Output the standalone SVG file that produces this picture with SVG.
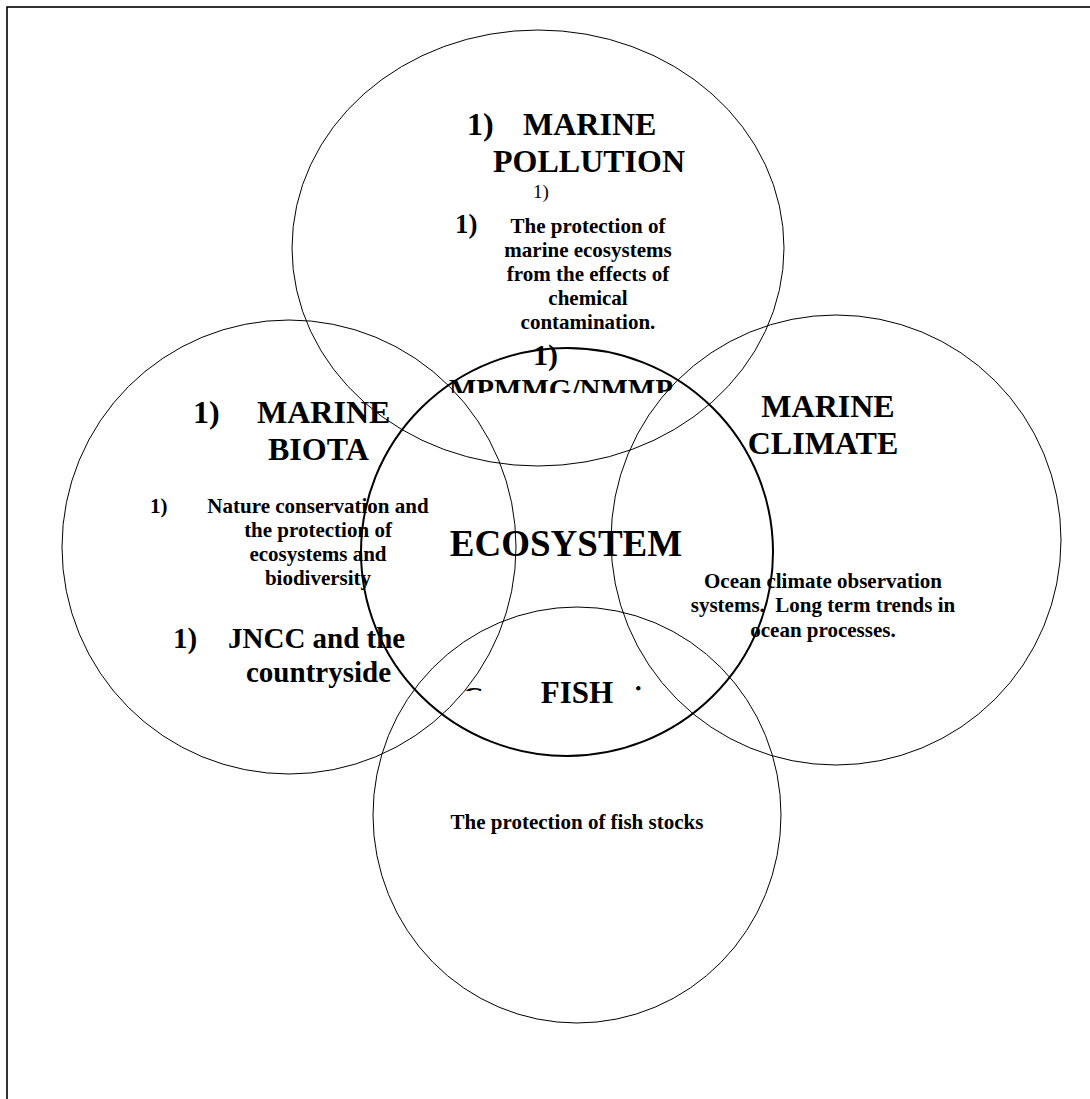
<svg xmlns="http://www.w3.org/2000/svg" width="1090" height="1099" viewBox="0 0 1090 1099">
<style>
.c{fill:none;stroke:#000;stroke-width:1}
.e{fill:none;stroke:#000;stroke-width:2}
text{font-family:"Liberation Serif","Times New Roman",serif;font-weight:bold;fill:#000}
.h{font-size:32px}
.d{font-size:21px}
.m{text-anchor:middle}
</style>
<defs>
<clipPath id="clipM"><rect x="400" y="370" width="320" height="23"/></clipPath>
<clipPath id="clipC"><rect x="455" y="680" width="40" height="11"/></clipPath>
<clipPath id="clipI"><rect x="630" y="680" width="20" height="11"/></clipPath>
</defs>
<rect x="7" y="7" width="1120" height="1120" fill="none" stroke="#000" stroke-width="1.6"/>
<g id="connectors"></g>
<g id="pollution">
<ellipse class="c" cx="538" cy="248" rx="246" ry="218"/>
<text class="h" x="467" y="135">1)</text>
<text class="h" x="523" y="135">MARINE</text>
<text class="h" x="493" y="172">POLLUTION</text>
<text x="533" y="198" style="font-size:19px;font-weight:normal">1)</text>
<text x="455" y="233" style="font-size:27px">1)</text>
<text class="d m" x="588" y="233">The protection of</text>
<text class="d m" x="588" y="257">marine ecosystems</text>
<text class="d m" x="588" y="281">from the effects of</text>
<text class="d m" x="588" y="305">chemical</text>
<text class="d m" x="588" y="329">contamination.</text>
<text x="533" y="365" style="font-size:30px">1)</text>
<text x="449" y="399" style="font-size:29px" clip-path="url(#clipM)">MPMMG/NMMP</text>
</g>
<g id="biota">
<ellipse class="c" cx="289" cy="547" rx="227" ry="227"/>
<text class="h" x="193" y="423">1)</text>
<text class="h" x="257" y="423">MARINE</text>
<text class="h" x="268" y="460">BIOTA</text>
<text class="d" x="150" y="513">1)</text>
<text class="d m" x="318" y="513">Nature conservation and</text>
<text class="d m" x="318" y="537">the protection of</text>
<text class="d m" x="318" y="561">ecosystems and</text>
<text class="d m" x="318" y="585">biodiversity</text>
<text x="173" y="648" style="font-size:29px">1)</text>
<text x="228" y="648" style="font-size:29px">JNCC and the</text>
<text x="246" y="682" style="font-size:29px">countryside</text>
</g>
<g id="climate">
<ellipse class="c" cx="836" cy="540" rx="225" ry="225"/>
<text class="h m" x="828" y="417">MARINE</text>
<text class="h m" x="823" y="454">CLIMATE</text>
<text class="d m" x="823" y="588">Ocean climate observation</text>
<text class="d m" x="823" y="612">systems.&#160; Long term trends in</text>
<text class="d m" x="823" y="637">ocean processes.</text>
</g>
<g id="fish">
<ellipse class="c" cx="577" cy="815" rx="204" ry="208"/>
<text class="m" x="577" y="703" style="font-size:31px">FISH</text>
<text class="d m" x="577" y="829">The protection of fish stocks</text>
<text x="462" y="707" style="font-size:30px" clip-path="url(#clipC)">C</text>
<text x="634" y="707" style="font-size:30px" clip-path="url(#clipI)">i</text>
</g>
<g id="ecosystem">
<ellipse class="e" cx="567" cy="552" rx="206" ry="204"/>
<text class="m" x="566" y="556" style="font-size:37px">ECOSYSTEM</text>
</g>
</svg>
